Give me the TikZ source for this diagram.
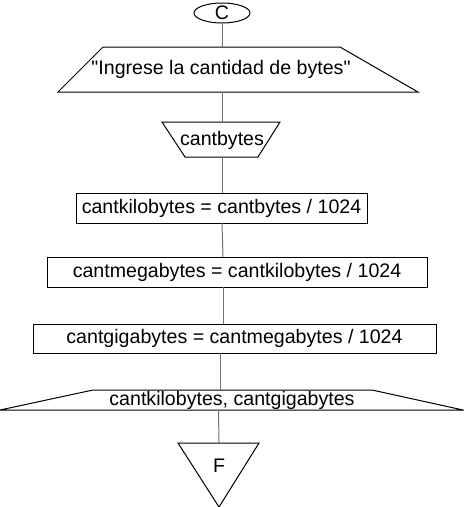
\documentclass[tikz,border=0pt]{standalone}
\usepackage{fontspec}
\setmainfont{Liberation Sans}
\usetikzlibrary{shapes.geometric}
\begin{document}
\begin{tikzpicture}[x=1pt,y=-1pt,
  shp/.style={draw=black,line width=1pt},
  conn/.style={draw=black!55,line width=1pt},
  txt/.style={inner sep=0pt,font=\fontsize{19.6}{22}\selectfont},
  box/.style={draw=black,line width=1pt,inner sep=0pt,minimum height=30pt,font=\fontsize{19.6}{22}\selectfont}]
\useasboundingbox (0,0) rectangle (464,507);
% start
\node[shp,ellipse,inner sep=0pt,minimum width=56pt,minimum height=20pt,font=\fontsize{19.6}{22}\selectfont] (c) at (222,13) {C};
% input
\draw[shp,fill=white] (103,47) -- (340,47) -- (418,92) -- (58,92) -- cycle;
\node[txt] (inp) at (221,69) {\textquotedbl Ingrese la cantidad de bytes\textquotedbl};
\coordinate (inT) at (222,47);
\coordinate (inB) at (222,92);
% read
\draw[shp] (162,122) -- (280,122) -- (258,157) -- (185,157) -- cycle;
\node[txt] (rd) at (222,140) {cantbytes};
\coordinate (rdT) at (222,122);
\coordinate (rdB) at (222,157);
% boxes
\node[box,minimum width=291pt] (b1) at (221.5,208) {cantkilobytes = cantbytes / 1024};
\node[box,minimum width=380pt] (b2) at (237,272) {cantmegabytes = cantkilobytes / 1024};
\node[box,minimum width=403pt,minimum height=29pt] (b3) at (234.5,338.5) {cantgigabytes = cantmegabytes / 1024};
\coordinate (b1B) at (222,223);
\coordinate (b2T) at (223,257);
\coordinate (b2B) at (223,287);
\coordinate (b3T) at (223,324);
\coordinate (b3B) at (220,353);
% output
\draw[shp] (93,390) -- (372,390) -- (463,410) -- (0,410) -- cycle;
\node[txt] (out) at (232,400) {cantkilobytes, cantgigabytes};
\coordinate (outT) at (220,390);
\coordinate (outB) at (218.5,410);
% end
\draw[shp] (178,443) -- (259,443) -- (219,507) -- cycle;
\node[txt] (f) at (219,466) {F};
\coordinate (fT) at (219,443);
% connectors
\draw[conn] (c.south) -- (inT);
\draw[conn] (inB) -- (rdT);
\draw[conn] (rdB) -- (b1.north -| rdB);
\draw[conn] (b1B) -- (b2T);
\draw[conn] (b2B) -- (b3T);
\draw[conn] (b3B) -- (outT);
\draw[conn] (outB) -- (fT);
\end{tikzpicture}
\end{document}
